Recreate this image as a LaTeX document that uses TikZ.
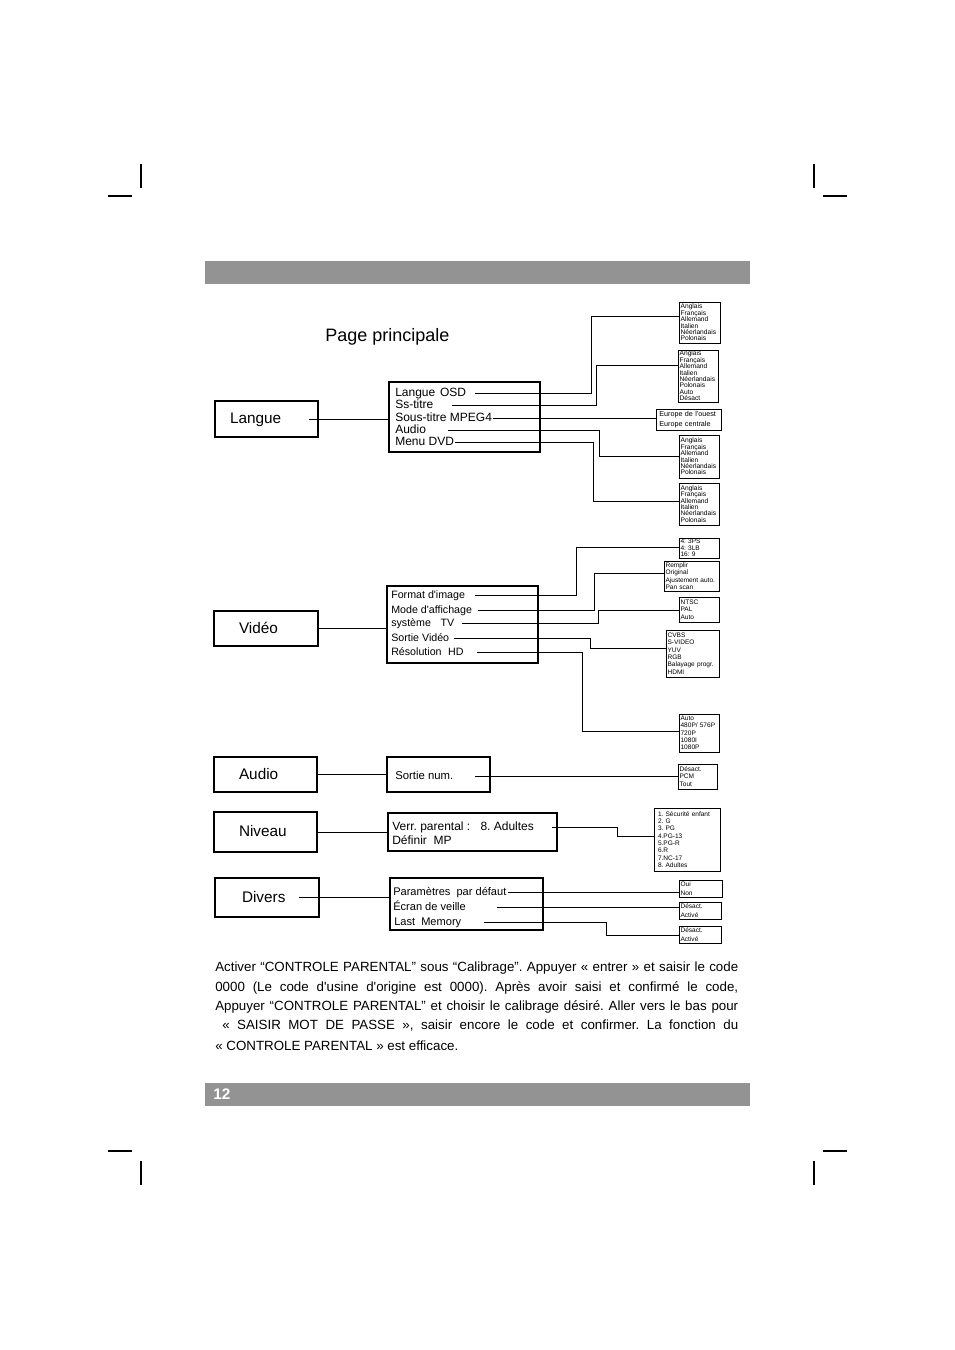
\documentclass[tikz,border=0pt]{standalone}
\usepackage{fontspec}
\setmainfont{Liberation Sans}[Ligatures=TeXOff]
\definecolor{barGray}{RGB}{148,147,147}
\hyphenpenalty=10000
\exhyphenpenalty=10000
\frenchspacing
\begin{document}
\begin{tikzpicture}[x=0.75pt,y=-0.75pt,
  mainbox/.style={draw, line width=0.8pt, align=left, inner ysep=0pt, font=\fontsize{11.5}{13}\selectfont},
  midbox/.style={draw, line width=0.8pt, inner sep=0pt},
  item/.style={anchor=west, inner sep=0pt, text height=6.4pt, text depth=1.8pt, font=\fontsize{9}{10}\selectfont},
  vitem/.style={item, font=\fontsize{8}{9}\selectfont},
  ditem/.style={item, font=\fontsize{8.3}{9}\selectfont},
  optbox/.style={draw, line width=0.6pt, align=left, inner xsep=1.2pt, inner ysep=0pt},
  langlist/.style={optbox, font=\fontsize{5}{4.8}\selectfont},
  optlist/.style={optbox, font=\fontsize{4.9}{5.5}\selectfont},
  conn/.style={line width=0.55pt},
  crop/.style={line width=1.1pt},
  para/.style={anchor=west, inner sep=0pt, font=\fontsize{10}{12}\selectfont}
]
\useasboundingbox (0,0) rectangle (954,1350);

% crop marks
\draw[crop] (108,196) -- (132,196);
\draw[crop] (141,164) -- (141,188);
\draw[crop] (814,164) -- (814,188);
\draw[crop] (823,196) -- (847,196);
\draw[crop] (108,1151) -- (132,1151);
\draw[crop] (141,1161) -- (141,1185);
\draw[crop] (814,1161) -- (814,1185);
\draw[crop] (823,1151) -- (847,1151);

% bars
\fill[barGray] (205,261) rectangle (750,284);
\fill[barGray] (205,1083) rectangle (750,1106);
\node[anchor=west, inner sep=0pt, text=white, font=\bfseries\fontsize{11.5}{13}\selectfont] (pnum) at (213,1094.5) {12};

% title
\node[anchor=west, inner sep=0pt, font=\fontsize{13.5}{15}\selectfont] (title) at (325,337) {Page principale};

% main boxes
\node[mainbox, minimum height=27pt, inner xsep=11.25pt, text width=54.75pt, text height=8.5pt, text depth=1.5pt] (lang) at (266.5,419) {Langue};
\node[mainbox, minimum height=26.25pt, inner xsep=18.75pt, text width=40.5pt, text height=8.5pt, text depth=1.5pt] (vid) at (266,628.5) {Vidéo};
\node[mainbox, minimum height=26.25pt, inner xsep=18.75pt, text width=39.75pt, text height=8.5pt, text depth=1.5pt] (aud) at (265.5,774.5) {Audio};
\node[mainbox, minimum height=30pt, inner xsep=18.75pt, text width=39.75pt, text height=8.5pt, text depth=1.5pt] (niv) at (265.5,832) {Niveau};
\node[mainbox, minimum height=29.25pt, inner xsep=20.25pt, text width=37.5pt, text height=8.5pt, text depth=1.5pt] (div) at (267,897.5) {Divers};

% middle boxes
\node[midbox, minimum width=113.25pt, minimum height=52.5pt] (lmid) at (464.5,417) {};
\node[midbox, minimum width=113.25pt, minimum height=57.75pt] (vmid) at (462.5,624.5) {};
\node[midbox, minimum width=77.25pt, minimum height=26.25pt] (amid) at (438.5,774.5) {};
\node[midbox, minimum width=126.75pt, minimum height=28.5pt] (nmid) at (472.5,832) {};
\node[midbox, minimum width=114.75pt, minimum height=39pt] (dmid) at (466.5,904) {};

% items
\node[item] (osd) at (395,393) {Langue\hspace{0.4em}OSD};
\node[item] (sst) at (395,405) {Ss-titre};
\node[item] (mpeg) at (395,418) {Sous-titre MPEG4};
\node[item] (aud1) at (395,430) {Audio};
\node[item] (menu) at (395,442) {Menu DVD};

\node[vitem] (fmt) at (391,595) {Format d'image};
\node[vitem] (mode) at (391,610) {Mode d'affichage};
\node[vitem] (sys) at (391,623) {système\hspace{0.9em}TV};
\node[vitem] (sv) at (391,638) {Sortie Vidéo};
\node[vitem] (res) at (391,652) {Résolution\hspace{0.6em}HD};

\node[item, font=\fontsize{8.5}{9}\selectfont] (snum) at (395,776) {Sortie num.};

\node[item] (verr) at (392,827) {Verr. parental :\hspace{0.85em}8. Adultes};
\node[item] (defmp) at (392,841) {Définir\hspace{0.55em}MP};

\node[ditem] (param) at (393,892) {Paramètres\hspace{0.55em}par défaut};
\node[ditem] (ecran) at (393,907) {Écran de veille};
\node[ditem] (last) at (394,922) {Last\hspace{0.55em}Memory};

% right option boxes
\node[langlist, text width=28.35pt, minimum height=30.75pt] (b1) at (699.5,322.5) {Anglais\\Français\\Allemand\\Italien\\Néerlandais\\Polonais};
\node[langlist, text width=27.6pt, minimum height=39pt] (b2) at (698,376) {Anglais\\Français\\Allemand\\Italien\\Néerlandais\\Polonais\\Auto\\Désact};
\node[optbox, inner xsep=2.5pt, text width=43.75pt, minimum height=15.75pt, font=\fontsize{5.4}{7.5}\selectfont] (eu) at (688.5,419.5) {Europe de l'ouest\\Europe centrale};
\node[langlist, text width=27.6pt, minimum height=32.25pt] (b4) at (699,456.5) {Anglais\\Français\\Allemand\\Italien\\Néerlandais\\Polonais};
\node[langlist, text width=27.6pt, minimum height=31.5pt] (b5) at (699,504) {Anglais\\Français\\Allemand\\Italien\\Néerlandais\\Polonais};

\node[optlist, text width=27.6pt, minimum height=15pt, font=\fontsize{4.9}{4.9}\selectfont] (v1) at (699,548) {4: 3PS\\4: 3LB\\16: 9};
\node[optlist, text width=38.85pt, minimum height=22.5pt] (v2) at (691.5,576) {Remplir\\Original\\Ajustement auto.\\Pan scan};
\node[optlist, text width=27.6pt, minimum height=18.75pt] (v3) at (699,609.5) {NTSC\\PAL\\Auto};
\node[optlist, text width=37.35pt, minimum height=35.25pt] (v4) at (692.5,653.5) {CVBS\\S-VIDEO\\YUV\\RGB\\Balayage progr.\\HDMI};
\node[optlist, text width=27.6pt, minimum height=28.5pt] (v5) at (699,733) {Auto\\480P/ 576P\\720P\\1080I\\1080P};

\node[optlist, text width=26.85pt, minimum height=18.75pt] (a1) at (697.5,776.5) {Désact.\\PCM\\Tout};

\node[optlist, inner xsep=3pt, text width=43.5pt, minimum height=47.25pt] (n1) at (687,839.5) {1. Sécurité enfant\\2. G\\3. PG\\4.PG-13\\5.PG-R\\6.R\\7.NC-17\\8. Adultes};

\node[optlist, text width=29.85pt, minimum height=12.75pt, font=\fontsize{4.9}{6.5}\selectfont] (d1) at (700.5,888.5) {Oui\\Non};
\node[optlist, text width=29.1pt, minimum height=12.75pt, font=\fontsize{4.9}{6.5}\selectfont] (d2) at (700,910.5) {Désact.\\Activé};
\node[optlist, text width=29.1pt, minimum height=12.75pt, font=\fontsize{4.9}{6.5}\selectfont] (d3) at (700,934.5) {Désact.\\Activé};

% connectors main -> middle
\draw[conn] ([xshift=-7.5pt]lang.east) -- (lang.east -| lmid.west);
\draw[conn] (vid.east) -- (vid.east -| vmid.west);
\draw[conn] (aud.east) -- (aud.east -| amid.west);
\draw[conn] (niv.east) -- (niv.east -| nmid.west);
\draw[conn] ([xshift=-15.75pt]div.east) -- (div.east -| dmid.west);

% connectors langue
\coordinate (k1) at (591,316);
\coordinate (k2) at (596,365);
\coordinate (k4) at (599,456);
\coordinate (k5) at (593,501);
\draw[conn] ([xshift=60pt]osd.west) -| (k1) -- (k1 -| b1.west);
\draw[conn] ([xshift=42.75pt]sst.west) -| (k2) -- (k2 -| b2.west);
\draw[conn] ([xshift=73.5pt]mpeg.west) -- (mpeg.west -| eu.west);
\draw[conn] ([xshift=39.75pt]aud1.west) -| (k4) -- (k4 -| b4.west);
\draw[conn] ([xshift=45pt]menu.west) -| (k5) -- (k5 -| b5.west);

% connectors video
\coordinate (k6) at (576,547);
\coordinate (k7) at (594,573);
\coordinate (k8) at (598,610);
\coordinate (k9) at (590,648);
\coordinate (k10) at (582,731);
\draw[conn] ([xshift=63pt]fmt.west) -| (k6) -- (k6 -| v1.west);
\draw[conn] ([xshift=65.25pt]mode.west) -| (k7) -- (k7 -| v2.west);
\draw[conn] ([xshift=53.25pt]sys.west) -| (k8) -- (k8 -| v3.west);
\draw[conn] ([xshift=47.25pt]sv.west) -| (k9) -- (k9 -| v4.west);
\draw[conn] ([xshift=64.5pt]res.west) -| (k10) -- (k10 -| v5.west);

% audio
\draw[conn] ([xshift=60pt]snum.west) -- (snum.west -| a1.west);

% niveau
\coordinate (k11) at (617,836);
\draw[conn] ([xshift=120pt]verr.west) -| (k11) -- (k11 -| n1.west);

% divers
\coordinate (k12) at (606,935);
\draw[conn] ([xshift=86.25pt]param.west) -- (param.west -| d1.west);
\draw[conn] ([xshift=78pt]ecran.west) -- (ecran.west -| d2.west);
\draw[conn] ([xshift=67.5pt]last.west) -| (k12) -- (k12 -| d3.west);

% paragraph
\node[para] (p1) at (215,968) {\hbox to 392.25pt{Activer “CONTROLE PARENTAL” sous “Calibrage”. Appuyer « entrer » et saisir le code}};
\node[para] (p2) at (215,988) {\hbox to 392.25pt{0000 (Le code d'usine d'origine est 0000). Après avoir saisi et confirmé le code,}};
\node[para] (p3) at (215,1007) {\hbox to 392.25pt{Appuyer “CONTROLE PARENTAL” et choisir le calibrage désiré. Aller vers le bas pour}};
\node[para] (p4) at (215,1026) {\hbox to 392.25pt{\hskip 5.25pt « SAISIR MOT DE PASSE », saisir encore le code et confirmer. La fonction du}};
\node[para] (p5) at (215,1046) {« CONTROLE PARENTAL » est efficace.};
\end{tikzpicture}
\end{document}
